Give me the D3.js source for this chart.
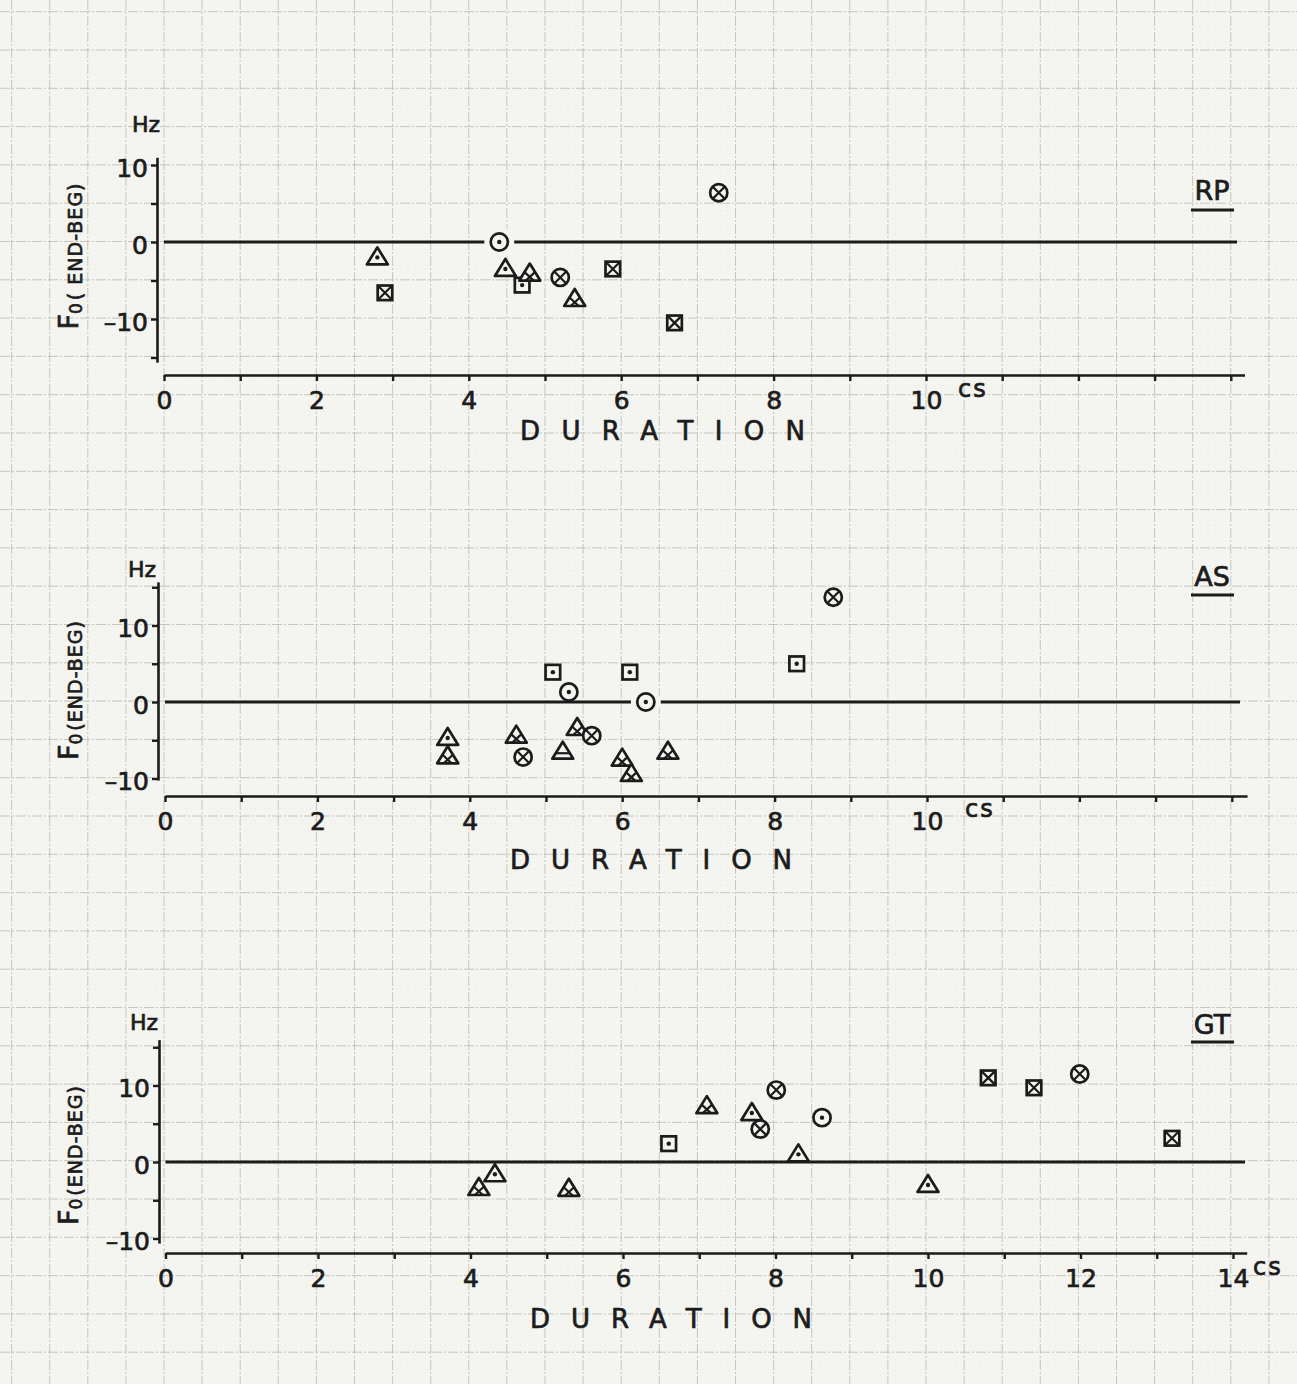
<!DOCTYPE html>
<html>
<head>
<meta charset="utf-8">
<script src="https://cdn.jsdelivr.net/npm/d3@7"></script>
<style>
body{margin:0;background:#f4f4f0;}
svg{display:block;}
text{font-family:"DejaVu Sans",sans-serif;fill:#1c1c1c;stroke:#1c1c1c;stroke-width:0.7px;}
</style>
</head>
<body>
<script>
(function(){

//speaker RP
var rpDur = [2.8, 2.9, 4.4, 4.48, 4.7, 4.8, 5.2, 5.39, 5.89, 6.7, 7.28];
var rpVal = [-2, -6.6, 0, -3.5, -5.6, -4.1, -4.6, -7.4, -3.5, -10.5, 6.4];
var rpSym = ["triDot","sqX","circDot","triDot","sqDot","triX","circX","triX","sqX","sqX","circX"];

//speaker AS
var asDur = [3.71, 3.71, 4.61, 4.70, 5.09, 5.30, 5.22, 5.41, 5.60, 6.10, 6.31, 6.00, 6.12, 6.60, 8.29, 8.77];
var asVal = [-4.7, -7.1, -4.4, -7.2, 3.9, 1.3, -6.5, -3.4, -4.4, 3.9, 0, -7.4, -9.4, -6.5, 5.0, 13.7];
var asSym = ["triDot","triX","triX","circX","sqDot","circDot","triLine","triX","circX","sqDot","circDot","triX","triX","triX","sqDot","circX"];

//speaker GT
var gtDur = [4.11, 4.32, 5.29, 6.60, 7.10, 7.69, 8.01, 7.80, 8.61, 8.30, 10.0, 10.79, 11.39, 11.99, 13.2];
var gtVal = [-3.4, -1.6, -3.5, 2.4, 7.3, 6.4, 9.4, 4.3, 5.8, 1.0, -3.0, 11.0, 9.7, 11.5, 3.1];
var gtSym = ["triX","triDot","triX","sqDot","triX","triDot","circX","circX","circDot","triDot","triDot","sqX","sqX","circX","sqX"];

//ticks
var xTickValues = [0,1,2,3,4,5,6,7,8,9,10,11,12,13,14];
var xLabelsShort = [0,2,4,6,8,10];
var xLabelsLong = [0,2,4,6,8,10,12,14];
var yTickValues = [15,10,5,0,-5,-10,-15];
var yLabels = [10,0,-10];

var bg = "#f4f4f0",
    ink = "#1b1b1b";

//panel layout
var panels = [
  {name:"RP", dur:rpDur, val:rpVal, sym:rpSym, labels:xLabelsShort,
   x0:164, unit:76.2, axisY:375, xEnd:14.18, zeroY:242, hz:7.7, yAxisX:157, yTop:11, yBot:-15.6,
   zeroEnd:1237, hzX:132, hzY:132, nameY:200, lineY:210, durX:520, durW:285, durY:440,
   titleY:256, yTitle:"( END-BEG)", csX:958, csY:397},
  {name:"AS", dur:asDur, val:asVal, sym:asSym, labels:xLabelsShort,
   x0:165, unit:76.2, axisY:796, xEnd:14.2, zeroY:702, hz:7.65, yAxisX:158, yTop:15.7, yBot:-10.2,
   zeroEnd:1240, hzX:128, hzY:577, nameY:586, lineY:595, durX:510, durW:282, durY:869,
   titleY:690, yTitle:"(END-BEG)", csX:965, csY:817},
  {name:"GT", dur:gtDur, val:gtVal, sym:gtSym, labels:xLabelsLong,
   x0:165.5, unit:76.25, axisY:1253, xEnd:14.18, zeroY:1162, hz:7.65, yAxisX:159, yTop:16, yBot:-10.6,
   zeroEnd:1245, hzX:130, hzY:1030, nameY:1034, lineY:1042, durX:530, durW:282, durY:1328,
   titleY:1155, yTitle:"(END-BEG)", csX:1253, csY:1275}
];

var width = 1297, height = 1384;

var svg = d3.select("body")
    .append("svg")
    .attr("width", width)
    .attr("height", height);

svg.append("rect")
    .attr("width", width)
    .attr("height", height)
    .attr("fill", bg);

//graph paper
drawPaper();

panels.forEach(drawPanel);

function drawPaper(){
    var px = 38.1, py = 38.3,
        gx0 = 164 - 4 * px,
        gy0 = 50 - py;
    var paper = svg.append("g").attr("class", "paper");

    //fine dotted lines
    var fineX = d3.range(gx0 - px, width, px / 5),
        fineY = d3.range(gy0 - py, height, py / 5);
    paper.selectAll(".fx").data(fineX).enter().append("line")
        .attr("x1", function(d){ return d; }).attr("x2", function(d){ return d; })
        .attr("y1", 0).attr("y2", height)
        .attr("stroke", "#e6e6de").attr("stroke-width", 0.5)
        .attr("stroke-dasharray", "1,4");
    paper.selectAll(".fy").data(fineY).enter().append("line")
        .attr("y1", function(d){ return d; }).attr("y2", function(d){ return d; })
        .attr("x1", 0).attr("x2", width)
        .attr("stroke", "#e6e6de").attr("stroke-width", 0.5)
        .attr("stroke-dasharray", "1,4");

    //main lines
    var majX = d3.range(gx0, width, px),
        majY = d3.range(gy0, height, py);
    paper.selectAll(".mx").data(majX).enter().append("line")
        .attr("x1", function(d){ return d; }).attr("x2", function(d){ return d; })
        .attr("y1", 0).attr("y2", height)
        .attr("stroke", "#c2c2b9").attr("stroke-width", 0.9)
        .attr("stroke-dasharray", "10,2,2,2");
    paper.selectAll(".my").data(majY).enter().append("line")
        .attr("y1", function(d){ return d; }).attr("y2", function(d){ return d; })
        .attr("x1", 0).attr("x2", width)
        .attr("stroke", "#c2c2b9").attr("stroke-width", 0.9)
        .attr("stroke-dasharray", "10,2,2,2");
}

function drawPanel(p){
    var g = svg.append("g").attr("class", "panel " + p.name);

    var x = d3.scaleLinear()
        .domain([0, p.xEnd])
        .range([p.x0, p.x0 + p.xEnd * p.unit]);

    var y = d3.scaleLinear()
        .domain([p.yBot, p.yTop])
        .range([p.zeroY - p.yBot * p.hz, p.zeroY - p.yTop * p.hz]);

    //x axis
    var xAxis = d3.axisBottom(x)
        .tickValues(xTickValues)
        .tickSize(6)
        .tickSizeOuter(0)
        .tickPadding(10)
        .tickFormat(function(d){ return p.labels.indexOf(d) >= 0 ? d : ""; });

    var xa = g.append("g")
        .attr("transform", "translate(0," + p.axisY + ")")
        .call(xAxis);
    styleAxis(xa);

    //y axis, a bit left of the x origin like the drawing
    var yAxis = d3.axisLeft(y)
        .tickValues(yTickValues.filter(function(v){ return v <= p.yTop && v >= p.yBot; }))
        .tickSize(6)
        .tickSizeOuter(0)
        .tickPadding(3)
        .tickFormat(function(d){ return yLabels.indexOf(d) >= 0 ? (d < 0 ? "\u2013" + (-d) : d) : ""; });

    var ya = g.append("g")
        .attr("transform", "translate(" + p.yAxisX + ",0)")
        .call(yAxis);
    styleAxis(ya);
    ya.selectAll("text").attr("dy", "0.45em");

    //zero line
    g.append("line")
        .attr("x1", x(0)).attr("x2", p.zeroEnd)
        .attr("y1", y(0)).attr("y2", y(0))
        .attr("stroke", ink)
        .attr("stroke-width", 2.8);

    //points
    var pts = p.dur.map(function(d, i){
        return {dur: d, val: p.val[i], sym: p.sym[i]};
    });

    //points on the zero line break it
    g.selectAll(".gap")
        .data(pts.filter(function(d){ return d.val === 0; }))
        .enter()
        .append("circle")
        .attr("cx", function(d){ return x(d.dur); })
        .attr("cy", function(d){ return y(d.val); })
        .attr("r", 15)
        .attr("fill", bg);

    g.selectAll(".pt")
        .data(pts)
        .enter()
        .append("g")
        .attr("class", "pt")
        .attr("transform", function(d){ return "translate(" + x(d.dur) + "," + y(d.val) + ")"; })
        .each(function(d){ drawMarker(d3.select(this), d.sym); });

    //units
    g.append("text")
        .attr("x", p.hzX).attr("y", p.hzY)
        .attr("font-size", 22)
        .text("Hz");

    g.append("text")
        .attr("x", p.csX).attr("y", p.csY)
        .attr("font-size", 24)
        .attr("letter-spacing", 2)
        .text("cs");

    //speaker name
    g.append("text")
        .attr("x", 1212).attr("y", p.nameY)
        .attr("text-anchor", "middle")
        .attr("font-size", 27)
        .text(p.name);
    g.append("line")
        .attr("x1", 1191).attr("x2", 1234)
        .attr("y1", p.lineY).attr("y2", p.lineY)
        .attr("stroke", ink).attr("stroke-width", 3);

    //x title
    g.append("text")
        .attr("x", p.durX).attr("y", p.durY)
        .attr("font-size", 26)
        .attr("textLength", p.durW)
        .attr("lengthAdjust", "spacing")
        .text("DURATION");

    //y title
    var t = g.append("text")
        .attr("transform", "translate(78," + p.titleY + ") rotate(-90)")
        .attr("text-anchor", "middle");
    t.append("tspan").attr("font-size", 27).text("F");
    t.append("tspan").attr("font-size", 17).attr("dy", 4).text("0");
    t.append("tspan").attr("font-size", 19).attr("dx", 3).attr("letter-spacing", 1).text(p.yTitle);
}

function styleAxis(a){
    a.select(".domain").attr("stroke", ink).attr("stroke-width", 2.6);
    a.selectAll(".tick line").attr("stroke", ink).attr("stroke-width", 2.4);
    a.selectAll(".tick text")
        .attr("fill", ink)
        .style("font-family", "DejaVu Sans, sans-serif")
        .style("font-size", "25px");
}

function drawMarker(m, kind){
    var sw = 2.7;
    if(kind.indexOf("circ") === 0){
        m.append("circle").attr("r", 8.6)
            .attr("fill", bg).attr("stroke", ink).attr("stroke-width", sw);
        if(kind === "circX"){
            m.append("path").attr("d", "M-6,-6L6,6M6,-6L-6,6")
                .attr("stroke", ink).attr("stroke-width", 2.2);
        }
    } else if(kind.indexOf("sq") === 0){
        m.append("rect").attr("x", -7.3).attr("y", -7.3).attr("width", 14.6).attr("height", 14.6)
            .attr("fill", bg).attr("stroke", ink).attr("stroke-width", sw);
        if(kind === "sqX"){
            m.append("path").attr("d", "M-7,-7L7,7M7,-7L-7,7")
                .attr("stroke", ink).attr("stroke-width", 2.2);
        }
    } else {
        m.append("path").attr("d", "M0,-10L10.5,7L-10.5,7Z")
            .attr("fill", bg).attr("stroke", ink).attr("stroke-width", sw)
            .attr("stroke-linejoin", "round");
        if(kind === "triX"){
            m.append("path").attr("d", "M-5.2,-1.5L4,7M5.2,-1.5L-4,7")
                .attr("stroke", ink).attr("stroke-width", 2.2);
        }
        if(kind === "triLine"){
            m.append("path").attr("d", "M-6.6,1.5L6.6,1.5")
                .attr("stroke", ink).attr("stroke-width", 2.2);
        }
    }
    if(kind.slice(-3) === "Dot"){
        m.append("circle").attr("r", 2.2).attr("fill", ink);
    }
}

})();
</script>
</body>
</html>
